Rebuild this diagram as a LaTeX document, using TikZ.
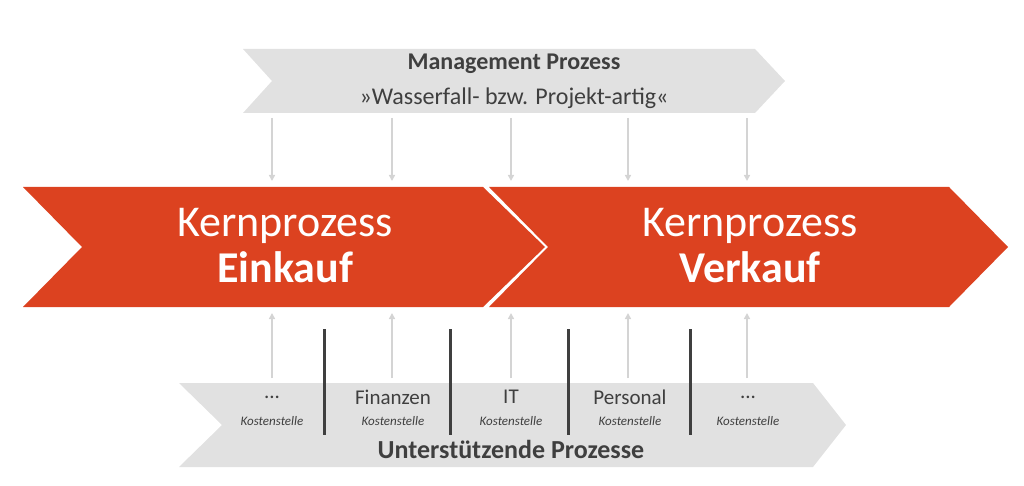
\documentclass[tikz,border=0pt]{standalone}
\usepackage{fontspec}
\setmainfont{Carlito}
\usetikzlibrary{arrows.meta}
\definecolor{kred}{HTML}{DC4220}
\definecolor{kgray}{HTML}{E1E1E1}
\definecolor{agray}{HTML}{D4D4D4}
\definecolor{tgray}{HTML}{3F3F3F}
\begin{document}
\begin{tikzpicture}[x=1pt,y=-1pt,
  arr/.style={draw=agray,line width=1.6pt,-{Triangle[length=6pt,width=6pt]}},
  bar/.style={draw=tgray,line width=3pt},
  small/.style={font=\fontsize{13}{14}\selectfont\itshape,text=tgray},
  mid/.style={font=\fontsize{21}{24}\selectfont,text=tgray}]
\useasboundingbox (0,0) rectangle (1024,486);
% top chevron
\fill[kgray] (243,49) -- (755,49) -- (785,81) -- (755,113) -- (243,113) -- (272,81) -- cycle;
\node[font=\bfseries\fontsize{24}{26}\selectfont,text=tgray] (mg) at (514,64) {Management Prozess};
\node[font=\fontsize{24}{26}\selectfont,text=tgray] (wf) at (514,98) {»Wasserfall- bzw. Projekt-artig«};
% red chevrons
\fill[kred] (23,187) -- (483,187) -- (545,247) -- (483,307) -- (23,307) -- (82,247) -- cycle;
\fill[kred] (489,187) -- (949,187) -- (1008,247) -- (949,307) -- (489,307) -- (548,247) -- cycle;
\node[font=\fontsize{44}{50}\selectfont,text=white,align=center] (e) at (285,246) {Kernprozess\\[-4pt]\textbf{Einkauf}};
\node[font=\fontsize{44}{50}\selectfont,text=white,align=center] (v) at (750,246) {Kernprozess\\[-4pt]\textbf{Verkauf}};
% bottom chevron
\fill[kgray] (179,383) -- (813,383) -- (846,425) -- (813,467) -- (179,467) -- (222,425) -- cycle;
% arrows
\foreach \x [count=\i] in {272,392,511,628,747}{
  \coordinate (t\i) at (\x,118); \coordinate (m\i) at (\x,181);
  \draw[arr] (t\i) -- (m\i);
  \coordinate (b\i) at (\x,378); \coordinate (n\i) at (\x,313);
  \draw[arr] (b\i) -- (n\i);
}
\foreach \x [count=\i] in {324,450,568,690}{
  \coordinate (p\i) at (\x,329); \coordinate (q\i) at (\x,435);
  \draw[bar] (p\i) -- (q\i);
}
\node[mid] (l1) at (272,397) {...};
\node[mid] (l2) at (393,397) {Finanzen};
\node[mid] (l3) at (511,397) {IT};
\node[mid] (l4) at (630,397) {Personal};
\node[mid] (l5) at (748,397) {...};
\foreach \x [count=\i] in {272,393,511,630,748}
  \node[small] (k\i) at (\x,421) {Kostenstelle};
\node[font=\bfseries\fontsize{26}{28}\selectfont,text=tgray] (u) at (511,449) {Unterstützende Prozesse};
\end{tikzpicture}
\end{document}
